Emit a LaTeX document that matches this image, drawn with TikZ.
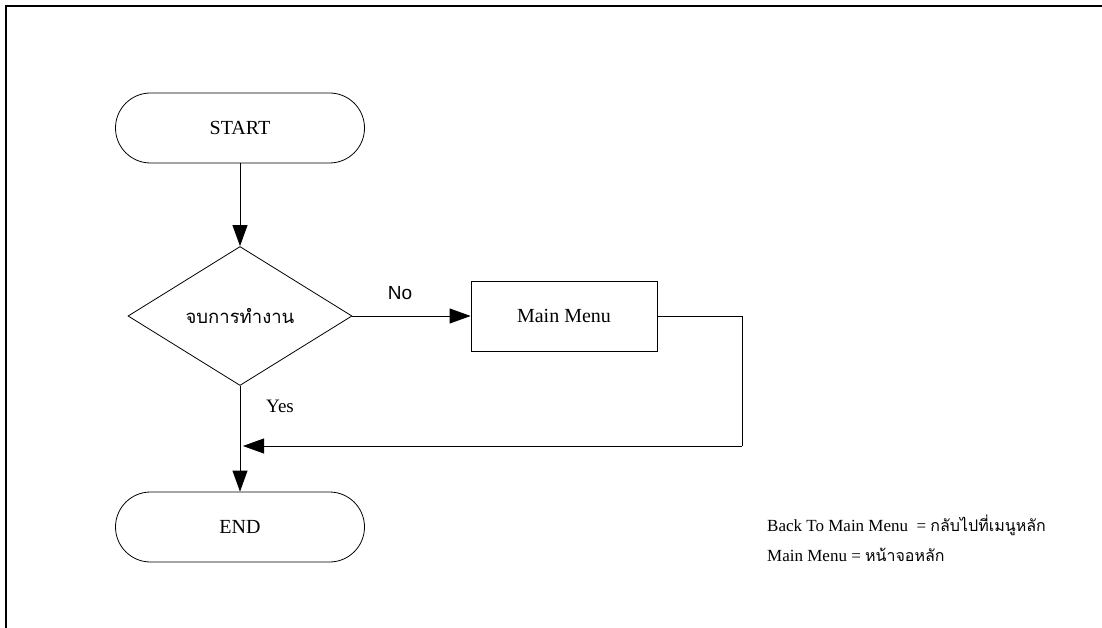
\documentclass[tikz,border=0pt]{standalone}
\usepackage{fontspec}
\setmainfont{Liberation Serif}
\newfontfamily\thaifont[Script=Thai]{Loma}
\newfontfamily\labelsans{Liberation Sans}
\usetikzlibrary{shapes.geometric,arrows.meta}

\tikzset{
  terminal/.style={draw, line width=0.8pt, rectangle, rounded corners=35pt,
    minimum width=249pt, minimum height=70pt, inner sep=0pt,
    font=\fontsize{20}{24}\selectfont},
  decision/.style={draw, line width=0.8pt, diamond, aspect=1.6,
    minimum width=224pt, minimum height=139pt, inner sep=0pt},
  process/.style={draw, line width=0.8pt, rectangle,
    minimum width=186pt, minimum height=70pt, inner sep=0pt,
    font=\fontsize{20}{24}\selectfont},
  flow/.style={line width=0.8pt, -{Triangle[length=21pt,width=15pt]}},
  plainline/.style={line width=0.8pt},
  frameline/.style={line width=2pt},
  legend/.style={anchor=base west, inner sep=0pt, font=\fontsize{17}{20}\selectfont}
}

\begin{document}
\begin{tikzpicture}[x=1pt, y=-1pt]
  \useasboundingbox (0,0) rectangle (1102,628);

  % page frame (top and left edges)
  \draw[frameline] (6,628) -- (6,6) -- (1102,6);

  % flowchart nodes
  \node[terminal] (start) at (240,128) {START};
  \node[decision] (check) at (240,316) {\thaifont\fontsize{18.5}{22}\selectfont จบการทำงาน};
  \node[process]  (menu)  at (564,316) {Main Menu};
  \node[terminal] (finish) at (240,527) {END};

  % loop-back points
  \coordinate (turn) at (742,446);
  \coordinate (join) at (243,446);

  % connectors
  \draw[flow] (start) -- (check);
  \draw[flow] (check) -- (menu);
  \draw[flow] (check) -- (finish);
  \draw[plainline] (menu.east) -| (turn);
  \draw[flow] (turn) -- (join);

  % branch labels
  \node[font=\labelsans\fontsize{19}{22}\selectfont] (nolabel) at (400,293) {No};
  \node[anchor=west, inner sep=0pt, font=\fontsize{19}{22}\selectfont] (yeslabel) at (266,406) {Yes};

  % legend
  \node[legend] (legendone) at (767,531) {Back To Main Menu\ \ = {\thaifont\fontsize{16}{20}\selectfont กลับไปที่เมนูหลัก}};
  \node[legend] (legendtwo) at (767,561) {Main Menu = {\thaifont\fontsize{16}{20}\selectfont หน้าจอหลัก}};
\end{tikzpicture}
\end{document}
